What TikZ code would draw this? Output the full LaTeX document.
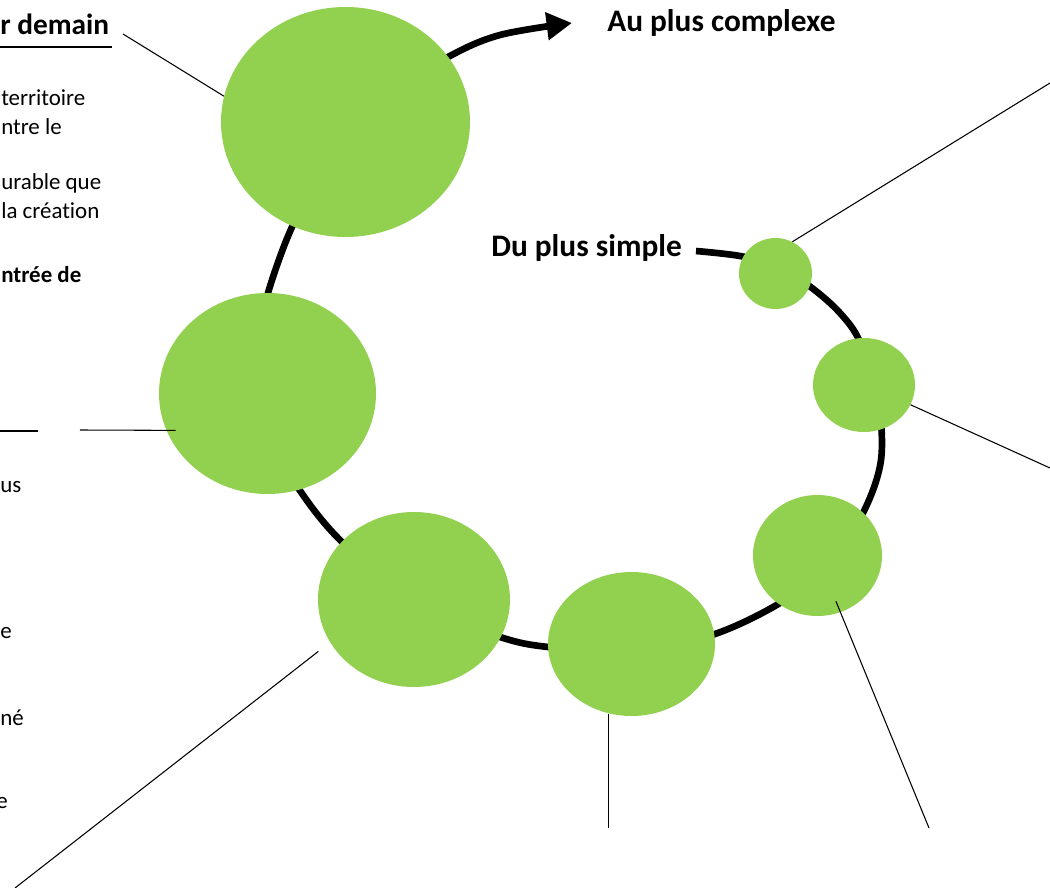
\documentclass[tikz,border=0pt]{standalone}
\usepackage{fontspec}
\setmainfont{Carlito}[Ligatures=NoCommon]
\usetikzlibrary{arrows.meta,shapes.geometric}

\definecolor{leafgreen}{RGB}{146,208,80}

\tikzset{
  bubble/.style={ellipse, fill=leafgreen, inner sep=0pt},
  lead/.style={line width=0.8pt},
  spiral/.style={line width=5pt},
  title/.style={font=\bfseries\fontsize{23.5}{28}\selectfont, inner sep=0pt},
  body/.style={font=\fontsize{17.2}{21}\selectfont, inner sep=0pt, anchor=base west},
  bodybold/.style={body, font=\bfseries\fontsize{17.2}{21}\selectfont}
}

\begin{document}
\begin{tikzpicture}[x=0.75pt, y=-0.75pt]
\useasboundingbox (0, 0) rectangle (1050, 888);
\clip (0, 0) rectangle (1050, 888);

% the path from the simplest to the most complex
\draw [spiral, arrows={-Triangle[length=19pt, width=20pt]}] plot [smooth, tension=0.55] coordinates {
  (696, 251) (740, 256) (778, 266) (812, 288) (840, 313) (860, 342)
  (878, 400) (881, 460) (863, 513) (828, 566) (780, 603)
  (715, 634) (635, 653) (548, 647) (500, 637) (415, 605)
  (342, 542) (303, 495) (278, 450) (262, 385) (264, 325) (268, 293)
  (292, 227) (325, 170) (375, 102) (448, 57) (500, 35) (572, 23)};

\node [bubble, minimum width=54.75pt, minimum height=53.25pt] (c1) at (775.5, 273.5) {};
\node [bubble, minimum width=76.5pt, minimum height=70.5pt] (c2) at (864, 385) {};
\node [bubble, minimum width=96.75pt, minimum height=90.75pt] (c3) at (817.5, 555.5) {};
\node [bubble, minimum width=125.25pt, minimum height=108pt] (c4) at (631.5, 644) {};
\node [bubble, minimum width=144pt, minimum height=131.25pt] (c5) at (414, 599.5) {};
\node [bubble, minimum width=162.75pt, minimum height=150.75pt] (c6) at (267.5, 393.5) {};
\node [bubble, minimum width=186.75pt, minimum height=172.5pt] (c7) at (345.5, 122) {};

\node [title, anchor=base west] (complexe) at (607, 32) {Au plus complexe};
\node [title, anchor=base west] (simple) at (491, 257) {Du plus simple};

% cut-off text on the left
\node [title, anchor=base west, font=\bfseries\fontsize{22}{26}\selectfont] (demain) at (0, 35) {r demain};
\draw [line width=1.1pt] (0, 47) -- (112, 47);
\node [body] (l1) at (1, 106) {territoire};
\node [body] (l2) at (1, 135) {ntre le};
\node [body] (l3) at (1, 190) {urable que};
\node [body] (l4) at (1, 219) {la création};
\node [bodybold] (l5) at (1, 282) {ntrée de};
\draw [lead] (0, 431) -- (38, 431);
\node [body] (l6) at (0, 492) {us};
\node [body] (l7) at (0, 638) {e};
\node [body] (l8) at (0, 725) {né};
\node [body] (l9) at (-4, 808) {e};

% leader lines
\coordinate (t1) at (1050, 83);
\coordinate (t2) at (1050, 468);
\coordinate (t3) at (929, 828);
\coordinate (t4) at (609, 828);
\coordinate (t5) at (15, 888);
\coordinate (t6) at (80, 430);
\coordinate (t7) at (123, 34);
\draw [lead] (c1.62) -- (t1);
\draw [lead] (c2.-23) -- (t2);
\draw [lead, shorten <=-9pt] (c3.-68) -- (t3);
\draw [lead] (c4.-108) -- (c4.-108 |- t4);
\draw [lead, shorten <=11pt] (c5.207) -- (t5);
\draw [lead, shorten <=-7pt] (c6.200) -- (t6);
\draw [lead] (c7.168) -- (t7);

\end{tikzpicture}
\end{document}
